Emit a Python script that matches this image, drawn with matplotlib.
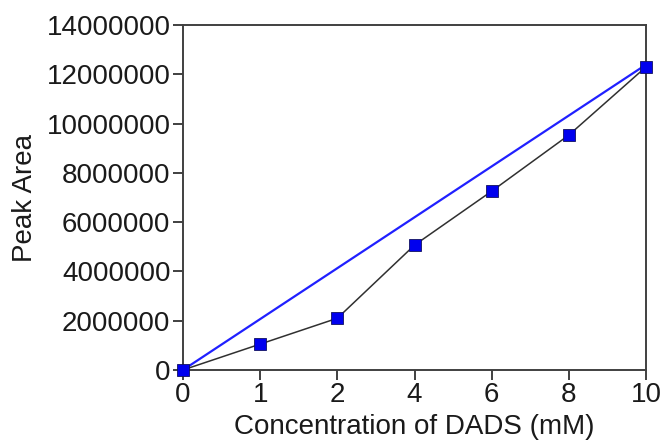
import matplotlib
matplotlib.use("Agg")
import matplotlib.pyplot as plt

# data
conc_labels = ["0", "1", "2", "4", "6", "8", "10"]
peak_area = [0, 1050000, 2100000, 5070000, 7260000, 9540000, 12310000]
fit_labels = ["0", "10"]
fit_area = [0, 12400000]
y_ticks = [0, 2000000, 4000000, 6000000, 8000000, 10000000, 12000000, 14000000]

plt.rcParams['font.family'] = ['Liberation Sans', 'DejaVu Sans']
plt.rcParams['font.size'] = 20

fig = plt.figure(figsize=(6.64, 4.42), dpi=100)
ax = fig.add_axes([0.2756, 0.163, 0.6974, 0.780])

xpos = list(range(len(conc_labels)))
fit_x = [conc_labels.index(l) for l in fit_labels]

ax.plot(fit_x, fit_area, color='#2020ff', linewidth=1.6, zorder=2)
ax.plot(xpos, peak_area, color='#303030', linewidth=1.1, zorder=3,
        marker='s', markersize=9, markerfacecolor='#0000ee',
        markeredgecolor='#101060', markeredgewidth=0.6, clip_on=False)

ax.set_xlim(0, len(conc_labels) - 1)
ax.set_ylim(0, 14000000)
ax.set_xticks(xpos)
ax.set_xticklabels(conc_labels)
ax.set_yticks(y_ticks)
ax.set_yticklabels([str(v) for v in y_ticks])

for s in ax.spines.values():
    s.set_linewidth(1.4)
    s.set_color('#404040')
ax.tick_params(direction='out', length=7, width=1.4, color='#404040',
               labelcolor='#1a1a1a', pad=2)

ax.set_xlabel("Concentration of DADS (mM)", labelpad=4, color='#1a1a1a')
ax.set_ylabel("Peak Area", labelpad=6, color='#1a1a1a')

fig.savefig("out.png", dpi=100)
